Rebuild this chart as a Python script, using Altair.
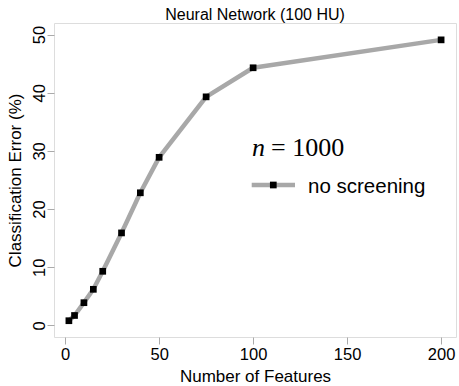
import altair as alt
import pandas as pd

# Classification error of a 100-hidden-unit network vs. number of features
features = [2, 5, 10, 15, 20, 30, 40, 50, 75, 100, 200]
error_pct = [0.8, 1.7, 3.9, 6.2, 9.3, 15.9, 22.8, 28.9, 39.3, 44.3, 49.1]

x_ticks = [0, 50, 100, 150, 200]
y_ticks = [0, 10, 20, 30, 40, 50]

df = pd.DataFrame({"features": features, "error": error_pct})

SANS = "Liberation Sans"
SERIF = "Liberation Serif"
LINE_GREY = "#a8a8a8"

x_enc = alt.X(
    "features:Q",
    scale=alt.Scale(domain=[-5.92, 207.92], nice=False, zero=False),
    axis=alt.Axis(
        values=x_ticks,
        title="Number of Features",
        domain=False,
        grid=False,
        tickColor="#aaaaaa",
        tickSize=7,
        labelFontSize=16.5,
        labelFont=SANS,
        labelColor="black",
        labelPadding=2,
        labelBaseline="top",
        titleFont=SANS,
        titleFontSize=17,
        titleFontWeight="normal",
        titleColor="black",
        titleBaseline="alphabetic",
        titleY=44.7,
    ),
)
y_enc = alt.Y(
    "error:Q",
    scale=alt.Scale(domain=[-2, 52], nice=False, zero=False),
    axis=alt.Axis(
        values=y_ticks,
        title="Classification Error (%)",
        domain=False,
        grid=False,
        tickColor="#aaaaaa",
        tickSize=7,
        labelFontSize=16.5,
        labelFont=SANS,
        labelColor="black",
        labelAngle=270,
        labelAlign="center",
        labelBaseline="alphabetic",
        labelPadding=2.5,
        titleFont=SANS,
        titleFontSize=17,
        titleFontWeight="normal",
        titleColor="black",
        titleAngle=270,
        titleBaseline="alphabetic",
        titleX=-33.3,
    ),
)

line = alt.Chart(df).mark_line(
    color=LINE_GREY, strokeWidth=4.5, strokeCap="round", strokeJoin="round"
).encode(x=x_enc, y=y_enc)

points = alt.Chart(df).mark_point(
    shape="square", filled=True, color="black", size=45, opacity=1
).encode(x="features:Q", y="error:Q")

# Panel heading, centred over the plot box
heading = alt.Chart(df.head(1)).mark_text(
    text="Neural Network (100 HU)", font=SANS, fontSize=16, align="center",
    baseline="alphabetic", color="black"
).encode(x=alt.value(201), y=alt.value(-3))

# Hand-drawn key in the upper right of the panel
key_line = alt.Chart(df.head(1)).mark_rule(
    color=LINE_GREY, strokeWidth=4.5
).encode(x=alt.value(197.7), x2=alt.value(241), y=alt.value(162))

key_point = alt.Chart(df.head(1)).mark_point(
    shape="square", filled=True, color="black", size=45, opacity=1
).encode(x=alt.value(219.3), y=alt.value(162))

key_text = alt.Chart(df.head(1)).mark_text(
    text="no screening", font=SANS, fontSize=20.5, align="left",
    baseline="middle", color="black"
).encode(x=alt.value(254), y=alt.value(163.5))

n_sym = alt.Chart(df.head(1)).mark_text(
    text="n", font=SERIF, fontSize=26, fontStyle="italic", align="left",
    baseline="alphabetic", color="black"
).encode(x=alt.value(198), y=alt.value(132.7))

n_val = alt.Chart(df.head(1)).mark_text(
    text="= 1000", font=SERIF, fontSize=26, align="left",
    baseline="alphabetic", color="black"
).encode(x=alt.value(217), y=alt.value(132.7))

chart = alt.layer(
    line, points, heading, key_line, key_point, key_text, n_sym, n_val
).properties(
    width=402,
    height=314,
    autosize=alt.AutoSizeParams(type="none"),
    padding={"left": 54, "top": 23, "right": 3, "bottom": 49},
).configure_view(
    stroke="#808080", strokeWidth=1
).configure(background="white")

chart.save("out.html", embed_options={"renderer": "svg", "actions": False})
